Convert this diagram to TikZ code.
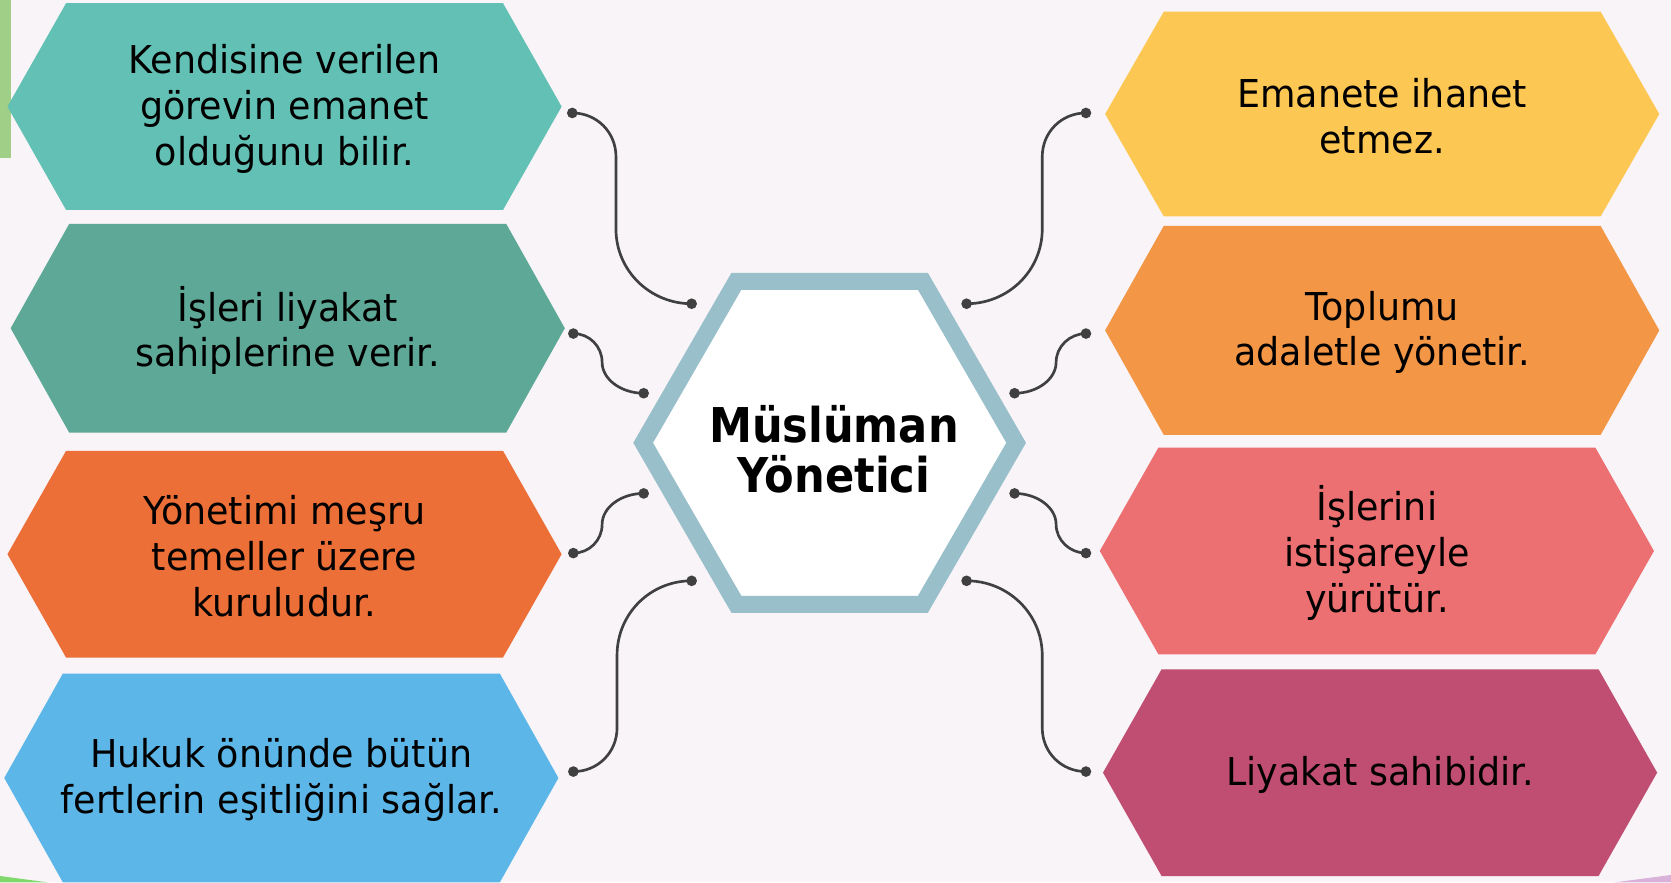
\documentclass[tikz,border=0pt]{standalone}
\usepackage{fontspec}
\setmainfont{DejaVu Sans}[FakeStretch=0.95, BoldFeatures={FakeStretch=0.9}]
\usetikzlibrary{shapes.geometric}
\definecolor{bgpink}{HTML}{F8F4F8}
\definecolor{bargreen}{HTML}{A0CF88}
\definecolor{cteal}{HTML}{62C0B4}
\definecolor{cdteal}{HTML}{5DA897}
\definecolor{corange}{HTML}{ED6F38}
\definecolor{cblue}{HTML}{5CB7E8}
\definecolor{cyellow}{HTML}{FCC752}
\definecolor{clorange}{HTML}{F39646}
\definecolor{cred}{HTML}{EC6F71}
\definecolor{cplum}{HTML}{C04D72}
\definecolor{hexrim}{HTML}{98BFCA}
\definecolor{linkgray}{HTML}{404040}
\tikzset{
  itemtext/.style={align=center, font=\fontsize{36}{43}\selectfont},
  link/.style={draw=linkgray, line width=2.5pt},
  dot/.style={circle, fill=linkgray, inner sep=0pt, minimum size=10pt}
}
\begin{document}
\begin{tikzpicture}[x=1pt,y=-1pt]
    \fill[bgpink] (0,0) rectangle (1568,828);
    \useasboundingbox (0,0) rectangle (1568,828);
    \fill[bargreen] (0,0) rectangle (10,148);
    \fill[bargreen!80!green] (0,822) -- (45,828) -- (0,828) -- cycle;
    \fill[violet!30] (1568,821) -- (1568,828) -- (1515,828) -- cycle;
    % yan kutular
    \foreach \cx/\cy/\hh/\col/\nm/\txt in {
        267/100/97/cteal/k1/{Kendisine verilen\\görevin emanet\\olduğunu bilir.},
        270/308/98/cdteal/k2/{İşleri liyakat\\sahiplerine verir.},
        267/520/97/corange/k3/{Yönetimi meşru\\temeller üzere\\kuruludur.},
        264/730/98/cblue/k4/{Hukuk önünde bütün\\fertlerin eşitliğini sağlar.},
        1297/107/96/cyellow/k5/{Emanete ihanet\\etmez.},
        1297/310/98/clorange/k6/{Toplumu\\adaletle yönetir.},
        1292/517/97/cred/k7/{İşlerini\\istişareyle\\yürütür.},
        1295/725/97/cplum/k8/{Liyakat sahibidir.}}
    {
        \fill[\col] (\cx-260,\cy) -- (\cx-205,\cy-\hh) -- (\cx+205,\cy-\hh)
            -- (\cx+260,\cy) -- (\cx+205,\cy+\hh) -- (\cx-205,\cy+\hh) -- cycle;
        \node[itemtext] (\nm) at (\cx,\cy+2) {\txt};
    }
    % orta
    \node[regular polygon, regular polygon sides=6, minimum size=350pt, inner sep=0pt,
          draw=hexrim, line width=16pt, fill=white] (mid) at (778.5,415.5) {};
    \node[align=center, font=\bfseries\fontsize{45}{47}\selectfont] (midtext)
        at ([xshift=4pt,yshift=-6pt]mid.center) {Müslüman\\Yönetici};
    % uclar
    \node[dot] (a1) at (537,106) {};
    \node[dot] (b1) at (649,285) {};
    \node[dot] (a2) at (538,313) {};
    \node[dot] (b2) at (604,369) {};
    \node[dot] (a3) at (538,519) {};
    \node[dot] (b3) at (604,463) {};
    \node[dot] (a4) at (538,724) {};
    \node[dot] (b4) at (649,545) {};
    \node[dot] (a5) at (1019,106) {};
    \node[dot] (b5) at (907,285) {};
    \node[dot] (a6) at (1019,313) {};
    \node[dot] (b6) at (952,369) {};
    \node[dot] (a7) at (1019,519) {};
    \node[dot] (b7) at (952,463) {};
    \node[dot] (a8) at (1019,724) {};
    \node[dot] (b8) at (907,545) {};
    % baglantilar
    \draw[link] (a1.center) .. controls +(23,0) and +(0,-23) .. ++(41,41) -- ++(0,68)
        .. controls +(0,39) and +(-39,0) .. (b1.center);
    \draw[link] (a2.center) .. controls +(15,0) and +(0,-15) .. ++(27,27)
        .. controls +(0,16) and +(-21,0) .. (b2.center);
    \draw[link] (a3.center) .. controls +(15,0) and +(0,15) .. ++(27,-27)
        .. controls +(0,-16) and +(-21,0) .. (b3.center);
    \draw[link] (a4.center) .. controls +(23,0) and +(0,23) .. ++(41,-41) -- ++(0,-68)
        .. controls +(0,-39) and +(-39,0) .. (b4.center);
    \draw[link] (a5.center) .. controls +(-23,0) and +(0,-23) .. ++(-41,41) -- ++(0,68)
        .. controls +(0,39) and +(39,0) .. (b5.center);
    \draw[link] (a6.center) .. controls +(-15,0) and +(0,-15) .. ++(-28,27)
        .. controls +(0,16) and +(21,0) .. (b6.center);
    \draw[link] (a7.center) .. controls +(-15,0) and +(0,15) .. ++(-28,-27)
        .. controls +(0,-16) and +(21,0) .. (b7.center);
    \draw[link] (a8.center) .. controls +(-23,0) and +(0,23) .. ++(-41,-41) -- ++(0,-68)
        .. controls +(0,-39) and +(39,0) .. (b8.center);
\end{tikzpicture}
\end{document}
